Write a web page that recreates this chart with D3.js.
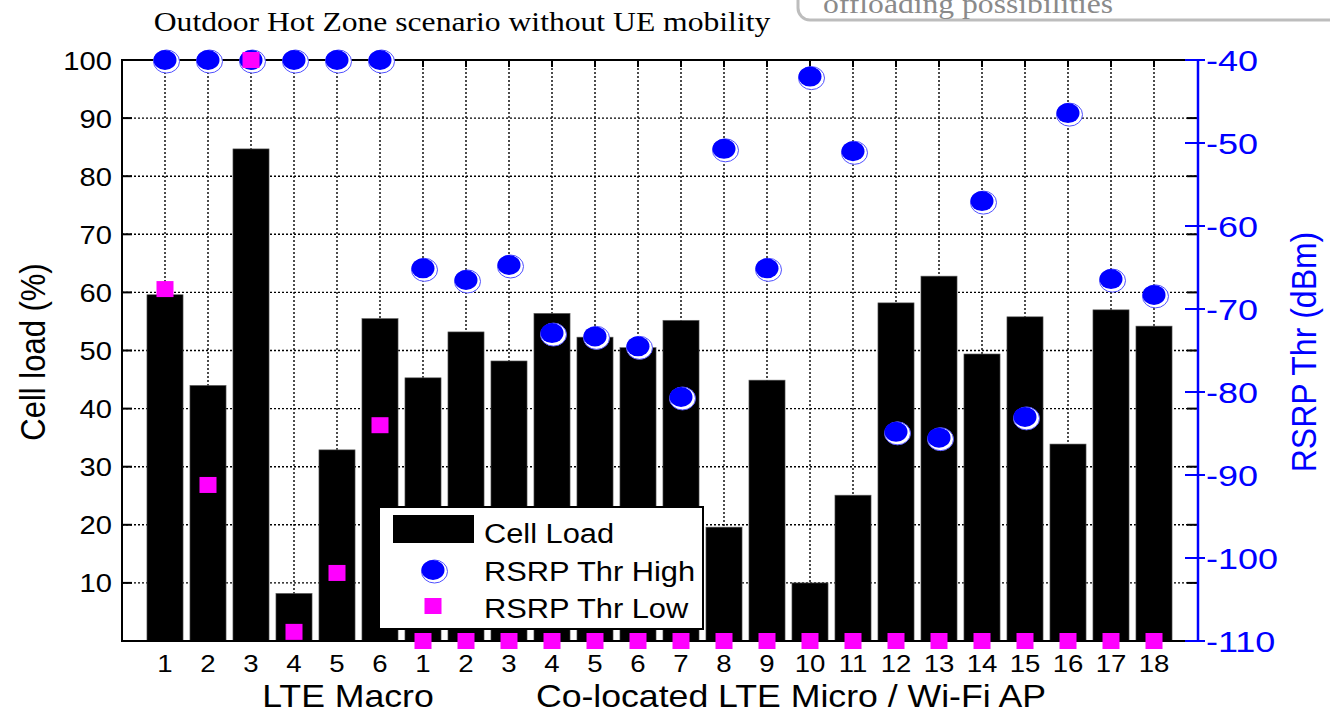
<!DOCTYPE html>
<html>
<head>
<meta charset="utf-8">
<script src="https://cdn.jsdelivr.net/npm/d3@7"></script>
<style>
  body { margin: 0; background: #fff; }
  svg { display: block; }
</style>
</head>
<body>
<svg id="chart" width="1330" height="712"></svg>
<script>
// tick labels along the bottom
var macroCells = ["1", "2", "3", "4", "5", "6"];
var microCells = ["1", "2", "3", "4", "5", "6", "7", "8", "9", "10", "11", "12",
                  "13", "14", "15", "16", "17", "18"];
var cells = macroCells.concat(microCells);

// cell load in %, one per cell (left axis)
var cellLoad = [59.6, 44.0, 84.7, 8.2, 32.9, 55.5,
                45.3, 53.2, 48.2, 56.4, 52.3, 50.5, 55.2, 19.6, 44.9, 10.0,
                25.1, 58.2, 62.8, 49.4, 55.8, 33.9, 57.0, 54.2];

// RSRP thresholds in dBm (right axis)
var rsrpHigh = [-40, -40, -40, -40, -40, -40,
                -65.1, -66.5, -64.7, -72.9, -73.3, -74.5, -80.6, -50.7, -65.1, -42.0,
                -51.0, -84.8, -85.5, -57.0, -83.0, -46.4, -66.4, -68.3];
var rsrpLow = [-67.6, -91.2, -40, -108.9, -101.8, -84.0,
               -110, -110, -110, -110, -110, -110, -110, -110, -110, -110,
               -110, -110, -110, -110, -110, -110, -110, -110];

var loadTicks = [10, 20, 30, 40, 50, 60, 70, 80, 90, 100];
var rsrpTicks = [-40, -50, -60, -70, -80, -90, -100, -110];

var svg = d3.select("#chart"),
  pL = 122, pR = 1197, pT = 60, pB = 641,
  blue = "#0000ff", pink = "#ff00ff",
  sans = "'Liberation Sans', Arial, sans-serif",
  serif = "'Liberation Serif', 'Times New Roman', serif";

var x = d3.scaleLinear().domain([0, cells.length + 1]).range([pL, pR]);
var yL = d3.scaleLinear().domain([0, 100]).range([pB, pT]);
var yR = d3.scaleLinear().domain([-110, -40]).range([pB, pT]);
var step = x(1) - x(0), barW = step * 0.84;

// text that is a bit wider than normal, like the stretched figure
function label(g, tx, ty, str, size, anchor, sx, fam) {
  return g.append("text")
    .attr("transform", "translate(" + tx + "," + ty + ") scale(" + (sx || 1) + ",1)")
    .attr("text-anchor", anchor || "start")
    .attr("font-family", fam || sans)
    .attr("font-size", size)
    .text(str);
}

// header
label(svg, 462, 31, "Outdoor Hot Zone scenario without UE mobility", 28, "middle", 1.13, serif);
svg.append("rect")
  .attr("x", 798).attr("y", -40).attr("width", 600).attr("height", 60).attr("rx", 12)
  .attr("fill", "#fff").attr("stroke", "#bdbdbd").attr("stroke-width", 3);
label(svg, 823, 13, "offloading possibilities", 28, "start", 1.13, serif).attr("fill", "#8a8a8a");

// grid
var grid = svg.append("g").attr("stroke", "#000").attr("stroke-width", 1.4)
  .attr("stroke-dasharray", "2,2");
grid.selectAll(".h").data(loadTicks.slice(0, -1)).enter().append("line")
  .attr("x1", pL).attr("x2", pR)
  .attr("y1", function(d) { return yL(d); }).attr("y2", function(d) { return yL(d); });
grid.selectAll(".v").data(cells).enter().append("line")
  .attr("x1", function(d, i) { return x(i + 1); }).attr("x2", function(d, i) { return x(i + 1); })
  .attr("y1", pT).attr("y2", pB);

// bars
svg.append("g").selectAll("rect").data(cellLoad).enter().append("rect")
  .attr("x", function(d, i) { return x(i + 1) - barW / 2; })
  .attr("y", function(d) { return yL(d); })
  .attr("width", barW)
  .attr("height", function(d) { return yL(0) - yL(d); })
  .attr("fill", "#000").attr("stroke", "#666").attr("stroke-width", 0.6);

// frame and small ticks
var frame = svg.append("g").attr("stroke", "#000").attr("stroke-width", 2);
frame.append("line").attr("x1", pL).attr("x2", pL).attr("y1", pT - 1).attr("y2", pB + 1);
frame.append("line").attr("x1", pL).attr("x2", pR).attr("y1", pT).attr("y2", pT);
frame.append("line").attr("x1", pL).attr("x2", pR).attr("y1", pB).attr("y2", pB);
frame.selectAll(".tt").data(cells).enter().append("line")
  .attr("x1", function(d, i) { return x(i + 1); }).attr("x2", function(d, i) { return x(i + 1); })
  .attr("y1", pT).attr("y2", pT + 7);
frame.selectAll(".rt").data(loadTicks).enter().append("line")
  .attr("x1", pR - 10).attr("x2", pR)
  .attr("y1", function(d) { return yL(d); }).attr("y2", function(d) { return yL(d); });
frame.selectAll(".lt").data(loadTicks).enter().append("line")
  .attr("x1", pL).attr("x2", pL + 10)
  .attr("y1", function(d) { return yL(d); }).attr("y2", function(d) { return yL(d); });

// left axis labels
var la = svg.append("g");
loadTicks.forEach(function(t) {
  label(la, 112, yL(t) + 9.5, t, 26.5, "end", 1.1);
});
svg.append("text")
  .attr("transform", "translate(45,352) rotate(-90) scale(1,1.13)")
  .attr("text-anchor", "middle").attr("font-family", sans).attr("font-size", 31)
  .text("Cell load (%)");

// right axis
var ra = svg.append("g");
ra.append("line").attr("x1", pR + 1).attr("x2", pR + 1).attr("y1", pT).attr("y2", pB + 1)
  .attr("stroke", blue).attr("stroke-width", 2.5);
ra.selectAll("line.tk").data(rsrpTicks).enter().append("line").attr("class", "tk")
  .attr("x1", pR - 12).attr("x2", pR + 8)
  .attr("y1", function(d) { return yR(d); }).attr("y2", function(d) { return yR(d); })
  .attr("stroke", blue).attr("stroke-width", 2);
rsrpTicks.forEach(function(t) {
  label(ra, 1206, yR(t) + 11, t, 30, "start", 1.2).attr("fill", blue);
});
svg.append("text")
  .attr("transform", "translate(1316,352) rotate(-90) scale(1,1.1)")
  .attr("text-anchor", "middle").attr("font-family", sans).attr("font-size", 32)
  .attr("fill", blue)
  .text("RSRP Thr (dBm)");

// bottom labels
var ba = svg.append("g");
cells.forEach(function(c, i) {
  label(ba, x(i + 1), 672, c, 24, "middle", 1.15);
});
label(ba, 348, 707, "LTE Macro", 31, "middle", 1.15);
label(ba, 791, 707, "Co-located LTE Micro / Wi-Fi AP", 31, "middle", 1.15);

// markers
function dot(g, cx, cy) {
  g.append("ellipse").attr("cx", cx + 1.5).attr("cy", cy + 1.5).attr("rx", 13).attr("ry", 11.5)
    .attr("fill", "#fff").attr("stroke", "#5050ff").attr("stroke-width", 1);
  g.append("ellipse").attr("cx", cx).attr("cy", cy).attr("rx", 11.5).attr("ry", 10)
    .attr("fill", blue);
}
function square(g, cx, cy) {
  g.append("rect").attr("x", cx - 8.5).attr("y", cy - 8).attr("width", 17).attr("height", 16)
    .attr("fill", pink);
}

var marks = svg.append("g");
rsrpHigh.forEach(function(v, i) { dot(marks, x(i + 1), yR(v)); });
rsrpLow.forEach(function(v, i) { square(marks, x(i + 1), yR(v)); });

// legend
var lg = svg.append("g");
lg.append("rect").attr("x", 379).attr("y", 507).attr("width", 324).attr("height", 122)
  .attr("fill", "#fff").attr("stroke", "#000").attr("stroke-width", 2);
lg.append("rect").attr("x", 393).attr("y", 515).attr("width", 81).attr("height", 28).attr("fill", "#000");
dot(lg, 433, 570);
square(lg, 433, 606);
label(lg, 484, 543, "Cell Load", 28, "start", 1.1);
label(lg, 484, 581, "RSRP Thr High", 28, "start", 1.1);
label(lg, 484, 618, "RSRP Thr Low", 28, "start", 1.1);
</script>
</body>
</html>
